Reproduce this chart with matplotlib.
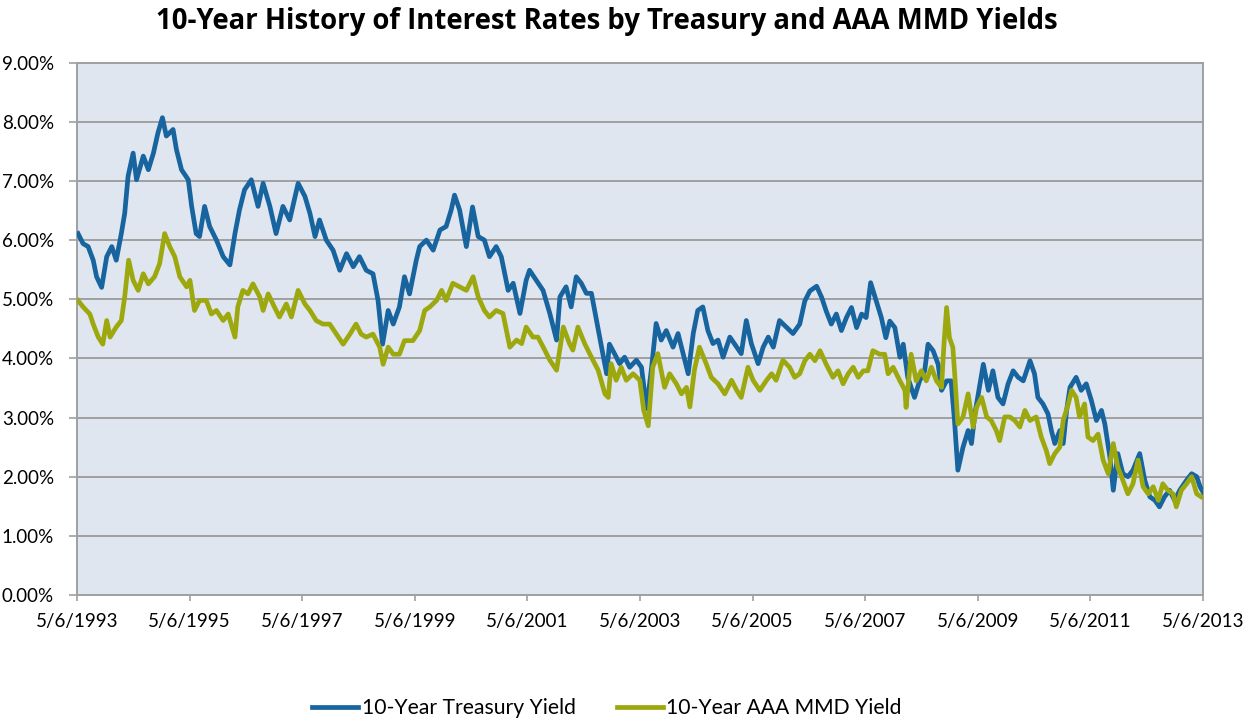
import numpy as np
import matplotlib
matplotlib.use("Agg")
import matplotlib.pyplot as plt
from matplotlib.ticker import FuncFormatter
from datetime import datetime, timedelta

# values (decimal year, yield in %)
tsy_years = [
    1993.36, 1993.45, 1993.54, 1993.63, 1993.69, 1993.78, 1993.87, 1993.96, 1994.04, 1994.13,
    1994.19, 1994.25, 1994.34, 1994.40, 1994.52, 1994.61, 1994.70, 1994.78, 1994.86, 1994.93,
    1995.05, 1995.11, 1995.20, 1995.32, 1995.38, 1995.46, 1995.52, 1995.61, 1995.70, 1995.82,
    1995.94, 1996.06, 1996.15, 1996.23, 1996.32, 1996.44, 1996.56, 1996.65, 1996.77, 1996.88,
    1997.00, 1997.12, 1997.27, 1997.39, 1997.48, 1997.57, 1997.65, 1997.77, 1997.89, 1998.01,
    1998.13, 1998.25, 1998.36, 1998.48, 1998.60, 1998.69, 1998.77, 1998.87, 1998.96, 1999.07,
    1999.16, 1999.25, 1999.37,
    1999.43, 1999.55, 1999.67, 1999.79, 1999.90, 1999.99, 2000.05, 2000.14, 2000.26, 2000.37,
    2000.47, 2000.58, 2000.67, 2000.79, 2000.88, 2001.00, 2001.09, 2001.21, 2001.32, 2001.38,
    2001.50, 2001.62, 2001.74, 2001.86, 2001.92, 2002.03, 2002.12, 2002.21, 2002.30, 2002.39,
    2002.48, 2002.57, 2002.66, 2002.75, 2002.80, 2002.89, 2002.98, 2003.07, 2003.16, 2003.28,
    2003.37, 2003.46, 2003.55, 2003.63, 2003.72, 2003.81, 2003.93, 2004.02, 2004.11, 2004.20,
    2004.29, 2004.37, 2004.46, 2004.55, 2004.64, 2004.73, 2004.82, 2004.94, 2005.06, 2005.14,
    2005.23, 2005.32, 2005.44, 2005.53, 2005.62, 2005.71, 2005.82, 2005.94, 2006.06,
    2006.18, 2006.27, 2006.36, 2006.48, 2006.57, 2006.65, 2006.74, 2006.83, 2006.92, 2007.01,
    2007.10, 2007.19, 2007.28, 2007.36, 2007.44, 2007.54, 2007.63, 2007.71, 2007.78, 2007.87,
    2007.96, 2008.02, 2008.10, 2008.22, 2008.31, 2008.40, 2008.46, 2008.55, 2008.64, 2008.70,
    2008.79, 2008.87, 2008.93, 2008.99, 2009.08, 2009.17, 2009.23, 2009.29, 2009.38, 2009.44,
    2009.53, 2009.61, 2009.70, 2009.79, 2009.88, 2009.97, 2010.06, 2010.15, 2010.27, 2010.35,
    2010.41, 2010.50, 2010.59, 2010.65, 2010.71, 2010.80, 2010.86, 2010.92, 2010.98, 2011.09,
    2011.18, 2011.27, 2011.36, 2011.45, 2011.54, 2011.60, 2011.69, 2011.75, 2011.83, 2011.92,
    2012.01, 2012.10, 2012.22, 2012.31, 2012.40, 2012.49, 2012.57, 2012.66, 2012.75, 2012.84,
    2012.93, 2013.05, 2013.14, 2013.23, 2013.29, 2013.36,
]
tsy_vals = [
    6.11, 5.94, 5.89, 5.66, 5.38, 5.20, 5.72, 5.89, 5.66, 6.11,
    6.45, 7.08, 7.47, 7.02, 7.42, 7.19, 7.47, 7.81, 8.07, 7.76,
    7.87, 7.53, 7.19, 7.02, 6.57, 6.11, 6.06, 6.57, 6.23, 6.00,
    5.72, 5.58, 6.11, 6.51, 6.85, 7.02, 6.57, 6.96, 6.57, 6.11,
    6.57, 6.34, 6.96, 6.74, 6.45, 6.06, 6.34, 6.00, 5.83, 5.49,
    5.77, 5.55, 5.72, 5.49, 5.43, 4.98, 4.24, 4.81, 4.58, 4.87,
    5.38, 5.09, 5.66,
    5.89, 6.00, 5.83, 6.17, 6.23, 6.51, 6.76, 6.51, 5.89, 6.56,
    6.06, 6.00, 5.72, 5.89, 5.72, 5.15, 5.27, 4.76, 5.32, 5.49,
    5.32, 5.15, 4.76, 4.31, 5.04, 5.21, 4.87, 5.38, 5.27, 5.10,
    5.10, 4.64, 4.19, 3.74, 4.24, 4.08, 3.91, 4.02, 3.85, 3.97,
    3.85, 3.15, 3.85, 4.59, 4.31, 4.47, 4.19, 4.42, 4.08, 3.74,
    4.42, 4.81, 4.87, 4.47, 4.25, 4.31, 4.02, 4.36, 4.19, 4.08,
    4.64, 4.25, 3.91, 4.19, 4.36, 4.19, 4.64, 4.53, 4.42,
    4.58, 4.97, 5.14, 5.22, 5.03, 4.80, 4.58, 4.75, 4.47, 4.69,
    4.86, 4.52, 4.75, 4.69, 5.28, 4.97, 4.69, 4.35, 4.63, 4.52,
    4.02, 4.24, 3.68, 3.34, 3.62, 3.79, 4.24, 4.13, 3.90, 3.46,
    3.62, 3.62, 2.95, 2.11, 2.50, 2.78, 2.56, 3.06, 3.57, 3.90,
    3.46, 3.79, 3.34, 3.23, 3.57, 3.79, 3.68, 3.62, 3.96, 3.74,
    3.34, 3.23, 3.06, 2.78, 2.56, 2.78, 2.56, 3.12, 3.51, 3.68,
    3.46, 3.57, 3.29, 2.95, 3.12, 2.89, 2.33, 1.77, 2.39, 2.05,
    2.00, 2.11, 2.39, 1.94, 1.66, 1.60, 1.49, 1.66, 1.77, 1.60,
    1.77, 1.94, 2.05, 2.00, 1.83, 1.71,
]

mmd_years = [
    1993.36, 1993.45, 1993.57, 1993.63, 1993.72, 1993.80, 1993.87, 1993.93, 1994.04, 1994.13,
    1994.19, 1994.26, 1994.34, 1994.43, 1994.52, 1994.61, 1994.72, 1994.81, 1994.90, 1994.99,
    1995.08, 1995.17, 1995.29, 1995.35, 1995.43, 1995.52, 1995.64, 1995.73, 1995.82, 1995.94,
    1996.03, 1996.15, 1996.20, 1996.29, 1996.38, 1996.47, 1996.59, 1996.65, 1996.74, 1996.85,
    1996.94, 1997.06, 1997.15, 1997.27, 1997.39, 1997.48, 1997.59, 1997.71, 1997.83, 1997.95,
    1998.07, 1998.19, 1998.30, 1998.39, 1998.48, 1998.60, 1998.72, 1998.78, 1998.87, 1998.96,
    1999.07, 1999.16, 1999.31,
    1999.43, 1999.52, 1999.61, 1999.73, 1999.82, 1999.90, 2000.02, 2000.14, 2000.26, 2000.38,
    2000.47, 2000.58, 2000.67, 2000.79, 2000.91, 2001.03, 2001.15, 2001.24, 2001.32, 2001.44,
    2001.53, 2001.65, 2001.74, 2001.86, 2001.98, 2002.09, 2002.15, 2002.24, 2002.36, 2002.48,
    2002.60, 2002.72, 2002.78, 2002.83, 2002.92, 2003.01, 2003.10, 2003.22, 2003.34, 2003.41,
    2003.49, 2003.57, 2003.66, 2003.78, 2003.87, 2003.99, 2004.08, 2004.17, 2004.23, 2004.31,
    2004.40, 2004.52, 2004.61, 2004.73, 2004.85, 2004.97, 2005.06, 2005.14, 2005.26, 2005.35,
    2005.47, 2005.59, 2005.68, 2005.76, 2005.88, 2006.00, 2006.09,
    2006.18, 2006.27, 2006.36, 2006.45, 2006.54, 2006.65, 2006.77, 2006.86, 2006.95, 2007.04,
    2007.13, 2007.22, 2007.31, 2007.39, 2007.48, 2007.60, 2007.69, 2007.75, 2007.84, 2007.96,
    2008.05, 2008.07, 2008.16, 2008.25, 2008.34, 2008.43, 2008.52, 2008.61, 2008.70, 2008.74,
    2008.79, 2008.84, 2008.90, 2008.93, 2008.99, 2009.08, 2009.17, 2009.26, 2009.32, 2009.41,
    2009.50, 2009.58, 2009.67, 2009.73, 2009.82, 2009.91, 2010.00, 2010.09, 2010.18, 2010.27,
    2010.38, 2010.47, 2010.56, 2010.62, 2010.71, 2010.80, 2010.86, 2010.95, 2011.01, 2011.09,
    2011.15, 2011.24, 2011.30, 2011.39, 2011.48, 2011.57, 2011.66, 2011.75, 2011.83, 2011.92,
    2012.01, 2012.10, 2012.19, 2012.28, 2012.37, 2012.46, 2012.55, 2012.63, 2012.72, 2012.81,
    2012.87, 2012.96, 2013.05, 2013.14, 2013.23, 2013.31,
]
mmd_vals = [
    4.98, 4.87, 4.75, 4.58, 4.36, 4.24, 4.64, 4.36, 4.53, 4.64,
    5.04, 5.66, 5.32, 5.15, 5.43, 5.26, 5.38, 5.60, 6.11, 5.89,
    5.72, 5.38, 5.21, 5.32, 4.81, 4.98, 4.98, 4.75, 4.81, 4.64,
    4.75, 4.36, 4.87, 5.15, 5.09, 5.26, 5.04, 4.81, 5.09, 4.87,
    4.70, 4.92, 4.70, 5.15, 4.92, 4.81, 4.64, 4.58, 4.58, 4.41,
    4.24, 4.41, 4.58, 4.41, 4.36, 4.41, 4.19, 3.90, 4.19, 4.07,
    4.07, 4.30, 4.30,
    4.47, 4.81, 4.87, 4.98, 5.15, 4.98, 5.27, 5.21, 5.15, 5.38,
    5.04, 4.81, 4.70, 4.81, 4.76, 4.19, 4.31, 4.25, 4.53, 4.36,
    4.36, 4.14, 3.97, 3.80, 4.53, 4.25, 4.14, 4.53, 4.25, 4.02,
    3.80, 3.40, 3.34, 3.91, 3.63, 3.85, 3.63, 3.74, 3.63, 3.12,
    2.86, 3.85, 4.08, 3.51, 3.74, 3.57, 3.40, 3.51, 3.18, 3.80,
    4.19, 3.91, 3.68, 3.57, 3.40, 3.63, 3.46, 3.34, 3.85, 3.63,
    3.46, 3.63, 3.74, 3.63, 3.97, 3.85, 3.68,
    3.74, 3.96, 4.07, 3.96, 4.13, 3.90, 3.68, 3.79, 3.57, 3.74,
    3.85, 3.68, 3.79, 3.79, 4.13, 4.07, 4.07, 3.74, 3.85, 3.62,
    3.46, 3.17, 4.07, 3.62, 3.79, 3.62, 3.85, 3.62, 3.51, 4.19,
    4.86, 4.35, 4.19, 3.79, 2.89, 3.01, 3.40, 2.84, 3.17, 3.34,
    3.01, 2.95, 2.78, 2.61, 3.01, 3.01, 2.95, 2.84, 3.12, 2.95,
    3.01, 2.67, 2.44, 2.22, 2.39, 2.50, 2.95, 3.23, 3.46, 3.34,
    3.01, 3.23, 2.67, 2.61, 2.72, 2.28, 2.05, 2.56, 2.16, 1.94,
    1.71, 1.88, 2.28, 1.83, 1.71, 1.83, 1.60, 1.88, 1.77, 1.71,
    1.49, 1.77, 1.88, 2.00, 1.71, 1.66,
]

tick_years = [1993, 1995, 1997, 1999, 2001, 2003, 2005, 2007, 2009, 2011, 2013]
y_ticks = [0, 1, 2, 3, 4, 5, 6, 7, 8, 9]

title = "10-Year History of Interest Rates by Treasury and AAA MMD Yields"
labels = ["10-Year Treasury Yield", "10-Year AAA MMD Yield"]


def to_date(yr):
    start = datetime(int(yr), 1, 1)
    return start + timedelta(days=(yr - int(yr)) * 365.25)


plt.rcParams["font.family"] = ["Lato", "DejaVu Sans"]

fig = plt.figure(figsize=(12.46, 7.21), dpi=100)
ax = fig.add_axes([0.0618, 0.1748, 0.9037, 0.7383])
ax.set_facecolor("#dfe6f0")

ax.plot([to_date(y) for y in tsy_years], tsy_vals, color="#17649f", lw=3.4,
        solid_joinstyle="round", label=labels[0], zorder=3)
ax.plot([to_date(y) for y in mmd_years], mmd_vals, color="#9da80f", lw=3.4,
        solid_joinstyle="round", label=labels[1], zorder=4)

ax.set_xlim(datetime(1993, 5, 6), datetime(2013, 5, 6))
ax.set_ylim(0, 9)
ax.set_yticks(y_ticks)
ax.yaxis.set_major_formatter(FuncFormatter(lambda v, p: f"{v:.2f}%"))
ax.set_xticks([datetime(y, 5, 6) for y in tick_years])
ax.set_xticklabels([f"5/6/{y}" for y in tick_years])

ax.grid(axis="y", color="#a0a0a0", lw=1.4, zorder=1)
ax.set_axisbelow(True)
for side in ["left", "right", "top", "bottom"]:
    ax.spines[side].set_color("#a0a0a0")
    ax.spines[side].set_linewidth(1.4)
ax.tick_params(axis="both", colors="#a0a0a0", labelcolor="black", labelsize=13.5,
               width=1.2)
ax.tick_params(axis="x", length=4, pad=9)
ax.tick_params(axis="y", length=5.5, pad=11)

fig.suptitle(title, x=0.487, y=0.99, fontsize=19.8, fontweight="bold",
             fontfamily=["Open Sans", "DejaVu Sans"])

fig.legend(loc="center", bbox_to_anchor=(0.487, 0.018), ncol=2, frameon=False,
           fontsize=15.2, handlelength=2.2, columnspacing=1.95, handletextpad=0.15)

fig.savefig("out.png", dpi=100)
